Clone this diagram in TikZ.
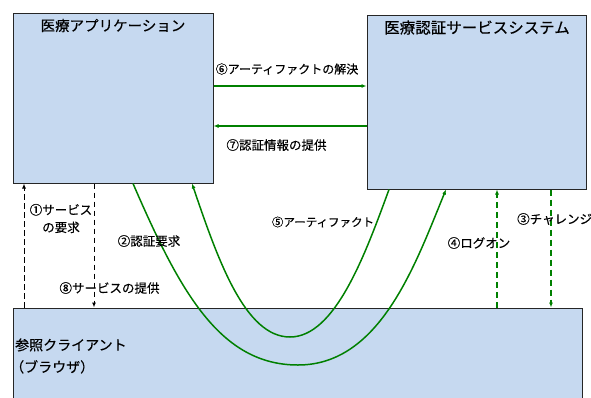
\documentclass[tikz,border=0pt]{standalone}
\usepackage{fontspec}
\newfontfamily\jp[FakeBold=0.3]{Noto Sans CJK JP}
\usetikzlibrary{arrows.meta}
\definecolor{boxfill}{RGB}{198,217,240}
\definecolor{grn}{RGB}{0,128,0}
\begin{document}
\begin{tikzpicture}[x=1pt,y=-1pt,
  box/.style={draw=black!85,line width=1pt,fill=boxfill,inner sep=0pt,rectangle},
  ttl/.style={font=\jp\fontsize{14.5}{22}\selectfont,inner sep=0pt},
  lbl/.style={font=\jp\fontsize{12.5}{17.5}\selectfont,inner sep=0pt,align=center},
  tip/.style={-{Latex[length=5pt,width=4pt]}},
  blk/.style={draw=black,line width=1pt,dash pattern=on 5.5pt off 3.5pt,tip},
  gdash/.style={draw=grn,line width=1.5pt,dash pattern=on 6pt off 4pt,tip},
  gline/.style={draw=grn,line width=1.5pt,tip}]
\clip (0,0) rectangle (591,397);
% boxes
\node[box,minimum width=200pt,minimum height=170pt] (app) at (113,98) {};
\node[box,minimum width=219pt,minimum height=174pt] (auth) at (476.5,102) {};
\node[box,minimum width=569pt,minimum height=110pt] (client) at (297.5,363) {};
% titles
\node[ttl] (appT) at (113,25.5) {医療アプリケーション};
\node[ttl,font=\jp\fontsize{15.5}{22}\selectfont] (authT) at (477,27.5) {医療認証サービスシステム};
\node[ttl,anchor=west,align=left,font=\jp\fontsize{14}{22}\selectfont] (cliT) at (15,356) {参照クライアント\\\hspace{-5pt}（ブラウザ）};
% horizontal arrows
\draw[gline] (app.east |- 0,86) -- (auth.west |- 0,86);
\draw[gline] (auth.west |- 0,126) -- (app.east |- 0,126);
% black dashed
\draw[blk] (client.north -| 24,0) -- (app.south -| 24,0);
\draw[blk] (app.south -| 94,0) -- (client.north -| 94,0);
% green dashed
\draw[gdash] (client.north -| 497,0) -- (auth.south -| 497,0);
\draw[gdash] (auth.south -| 551,0) -- (client.north -| 551,0);
% curves
\draw[gline] (app.south -| 133,0) .. controls (180,292) and (220,365) .. (298,365)
   .. controls (380,365) and (415,265) .. (auth.south -| 446,0);
\draw[gline] (auth.south -| 389,0) .. controls (365,255) and (335,337) .. (290,337)
   .. controls (245,337) and (218,260) .. (app.south -| 192,0);
% labels
\node[lbl,font=\jp\fontsize{12}{17.5}\selectfont] (l6) at (287,69) {⑥アーティファクトの解決};
\node[lbl] (l7) at (276.5,145) {⑦認証情報の提供};
\node[lbl] (l1) at (61,218.5) {①サービス\\の要求};
\node[lbl] (l2) at (149,241) {②認証要求};
\node[lbl] (l8) at (109.5,288) {⑧サービスの提供};
\node[lbl,font=\jp\fontsize{11.5}{17.5}\selectfont] (l5) at (323,222) {⑤アーティファクト};
\node[lbl] (l4) at (479,243) {④ログオン};
\node[lbl,anchor=west] (l3) at (517,219) {③チャレンジ};
\end{tikzpicture}
\end{document}
